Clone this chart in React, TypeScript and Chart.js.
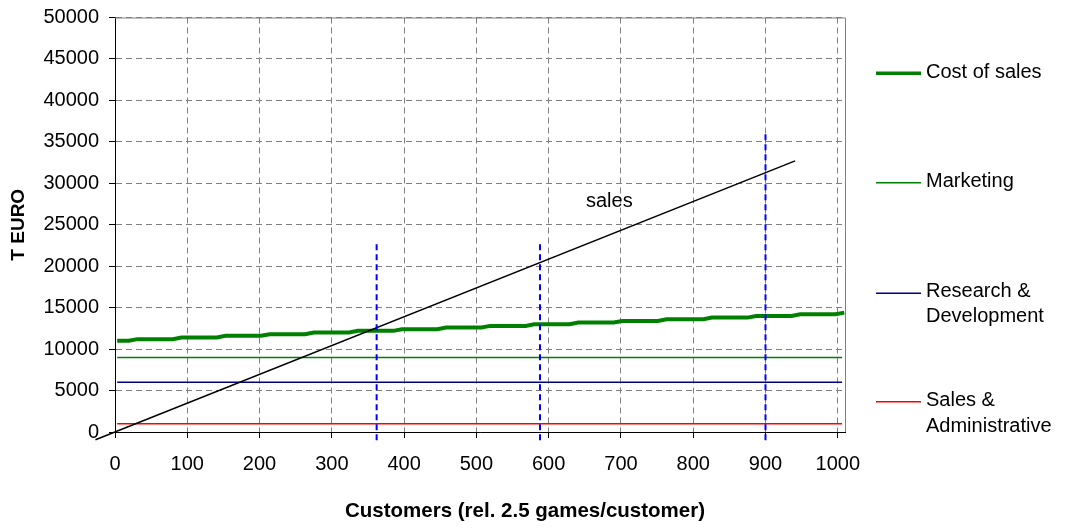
import React, { useEffect, useRef } from 'react';
import { Chart, registerables } from 'chart.js';

Chart.register(...registerables);

const FONT = "'Liberation Sans', Arial, Helvetica, sans-serif";

// Axis ranges (customers on x, thousand euro on y)
const xMin = 0;
const xMax = 1010;
const yMin = 0;
const yMax = 50000;
const xTickValues = [0, 100, 200, 300, 400, 500, 600, 700, 800, 900, 1000];
const yTickValues = [0, 5000, 10000, 15000, 20000, 25000, 30000, 35000, 40000, 45000, 50000];
const xTitle = 'Customers (rel. 2.5 games/customer)';
const yTitle = 'T EURO';

// Fixed cost lines (T EURO), spanning the customer range
const lineStart = 3;
const lineEnd = 1006;
const marketingCost = 9000;
const researchCost = 6000;
const salesAdminCost = 1000;

// Cost of sales: customer counts where the cost steps up, and the level on each plateau
const costStepAt = [25, 86, 147, 208, 269, 330, 391, 452, 513, 574, 635, 696, 757, 820, 881, 942, 1003];
const costLevels = [11000, 11200, 11400, 11600, 11800, 12000, 12200, 12400, 12600, 12800, 13000, 13200, 13400, 13600, 13800, 14000, 14200, 14400];
const costRamp = 6;

// Sales revenue line end points
const salesX = [-27, 941];
const salesY = [-940, 32700];

// Break-even markers (dashed verticals)
const markerX = [362, 588, 900];
const markerTop = [23000, 23000, 36000];
const markerBottom = -1000;

// Legend entries
const legendItems = [
  { lines: ['Cost of sales'], color: '#008000', width: 3.5 },
  { lines: ['Marketing'], color: '#008000', width: 1.5 },
  { lines: ['Research &', 'Development'], color: '#000080', width: 1.5 },
  { lines: ['Sales &', 'Administrative'], color: '#FF0000', width: 1.5 },
];
const legendLineY = [73.3, 182.7, 293.3, 401.7];
const legendTextBase = [78.3, 187.3, 296.7, 406];

function costPoints() {
  const pts: { x: number; y: number }[] = [{ x: lineStart, y: costLevels[0] }];
  costStepAt.forEach((s, i) => {
    pts.push({ x: s - costRamp, y: costLevels[i] });
    pts.push({ x: Math.min(s + costRamp, xMax), y: costLevels[i + 1] });
  });
  const last = pts[pts.length - 1];
  if (last.x < lineEnd + 1) pts.push({ x: lineEnd + 1, y: last.y });
  return pts;
}

function flat(value: number) {
  return [
    { x: lineStart, y: value },
    { x: lineEnd, y: value },
  ];
}

const plainNumber = (v: any) => String(v);

const overlayPlugin = {
  id: 'overlay',
  beforeDatasetsDraw(chart: any) {
    const { ctx, chartArea } = chart;
    ctx.save();
    ctx.strokeStyle = '#808080';
    ctx.lineWidth = 1;
    ctx.setLineDash([]);
    ctx.beginPath();
    ctx.moveTo(chartArea.left, chartArea.top + 0.5);
    ctx.lineTo(chartArea.right + 0.5, chartArea.top + 0.5);
    ctx.lineTo(chartArea.right + 0.5, chartArea.bottom);
    ctx.stroke();
    ctx.restore();
  },
  afterDraw(chart: any) {
    const { ctx } = chart;
    ctx.save();
    ctx.setLineDash([]);
    ctx.fillStyle = '#000';

    // x-axis title
    ctx.font = `bold 20.5px ${FONT}`;
    ctx.textAlign = 'center';
    ctx.textBaseline = 'alphabetic';
    ctx.fillText(xTitle, 525, 517);

    ctx.font = `20px ${FONT}`;
    ctx.textAlign = 'left';
    ctx.fillText('sales', 586, 207);

    legendItems.forEach((item, i) => {
      ctx.strokeStyle = item.color;
      ctx.lineWidth = item.width;
      ctx.beginPath();
      ctx.moveTo(876, legendLineY[i]);
      ctx.lineTo(921, legendLineY[i]);
      ctx.stroke();
      item.lines.forEach((t, j) => {
        ctx.fillText(t, 926, legendTextBase[i] + j * 25.7);
      });
    });
    ctx.restore();
  },
};

export default function App() {
  const ref = useRef<HTMLCanvasElement>(null);

  useEffect(() => {
    const canvas = ref.current;
    if (!canvas) return;

    const markerSets = markerX.map((x, i) => ({
      label: `marker${i}`,
      data: [
        { x, y: markerBottom },
        { x, y: markerTop[i] },
      ],
      borderColor: '#0000FF',
      borderWidth: 2,
      borderDash: [6, 4],
      pointRadius: 0,
      clip: false as const,
    }));

    const chart = new Chart(canvas, {
      type: 'line',
      data: {
        datasets: [
          ...markerSets,
          {
            label: 'sales',
            data: salesX.map((x, i) => ({ x, y: salesY[i] })),
            borderColor: '#000000',
            borderWidth: 1.5,
            pointRadius: 0,
            clip: false as const,
          },
          {
            label: 'Cost of sales',
            data: costPoints(),
            borderColor: '#008000',
            borderWidth: 4,
            pointRadius: 0,
            clip: false as const,
          },
          {
            label: 'Marketing',
            data: flat(marketingCost),
            borderColor: '#008000',
            borderWidth: 1.5,
            pointRadius: 0,
          },
          {
            label: 'Research & Development',
            data: flat(researchCost),
            borderColor: '#000080',
            borderWidth: 1.5,
            pointRadius: 0,
          },
          {
            label: 'Sales & Administrative',
            data: flat(salesAdminCost),
            borderColor: '#FF0000',
            borderWidth: 1.5,
            pointRadius: 0,
          },
        ],
      },
      options: {
        animation: false,
        responsive: false,
        devicePixelRatio: 1,
        layout: { padding: { top: 17.5, right: 220, left: 0, bottom: 0 } },
        plugins: {
          legend: { display: false },
          tooltip: { enabled: false },
        },
        elements: { line: { tension: 0 } },
        scales: {
          x: {
            type: 'linear',
            min: xMin,
            max: xMax,
            afterBuildTicks(scale: any) {
              scale.ticks = xTickValues.map((value) => ({ value }));
            },
            afterFit(scale: any) {
              scale.height = 99;
              scale.paddingLeft = 0;
              scale.paddingRight = 0;
            },
            ticks: {
              callback: plainNumber,
              color: '#000',
              font: { family: FONT, size: 20 },
              padding: 14,
              maxRotation: 0,
              autoSkip: false,
            },
            grid: {
              color: '#808080',
              lineWidth: 1,
              tickLength: 6,
              tickColor: '#000',
              tickWidth: 1,
            },
            border: { display: true, color: '#000', width: 1, dash: [6, 4] },
            title: { display: false },
          },
          y: {
            type: 'linear',
            min: yMin,
            max: yMax,
            afterBuildTicks(scale: any) {
              scale.ticks = yTickValues.map((value) => ({ value }));
            },
            afterFit(scale: any) {
              scale.width = 115;
              scale.paddingTop = 0;
              scale.paddingBottom = 0;
            },
            ticks: {
              callback: plainNumber,
              color: '#000',
              font: { family: FONT, size: 20 },
              padding: 10,
              autoSkip: false,
            },
            grid: {
              color: '#808080',
              lineWidth: 1,
              tickLength: 6,
              tickColor: '#000',
              tickWidth: 1,
            },
            border: { display: true, color: '#000', width: 1, dash: [6, 4] },
            title: {
              display: true,
              text: yTitle,
              color: '#000',
              font: { family: FONT, size: 19, weight: 'bold' },
              padding: { top: 7, bottom: 0 },
            },
          },
        },
      },
      plugins: [overlayPlugin],
    });

    return () => chart.destroy();
  }, []);

  return (
    <div style={{ position: 'absolute', left: 0, top: 0, width: 1065, height: 531, background: '#fff' }}>
      <canvas ref={ref} width={1065} height={531} style={{ display: 'block' }} />
    </div>
  );
}
